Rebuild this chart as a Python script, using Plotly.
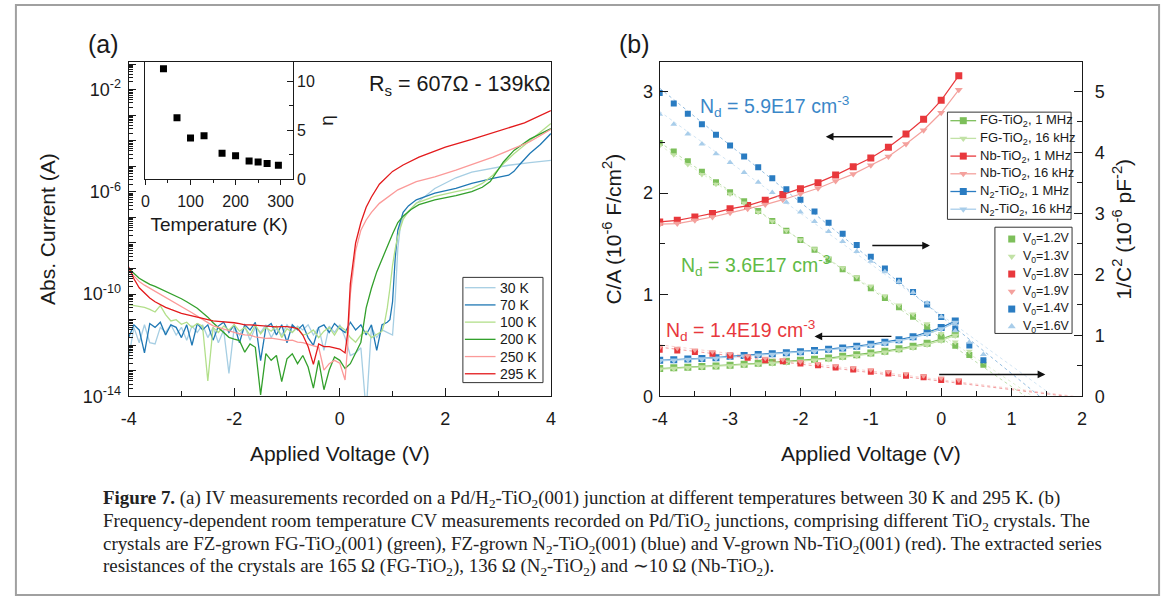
import numpy as np
import plotly.graph_objects as go

W, H = 1171, 610
SANS = "Liberation Sans, Arial, sans-serif"
SERIF = "Liberation Serif, Times New Roman, serif"
INK = "#1a1a1a"


def px(x):
    return x / W


def py(y):
    return 1 - y / H


# ---------------- (a) IV curves: bias (V) and log10 |I| (A) ----------------
V_LOW = [-4.0, -3.9, -3.8, -3.7, -3.6, -3.5, -3.4, -3.3, -3.2, -3.1,
         -3.0, -2.9, -2.8, -2.7, -2.6, -2.5, -2.4, -2.3, -2.2, -2.1,
         -2.0, -1.9, -1.8, -1.7, -1.6, -1.5, -1.4, -1.3, -1.2, -1.1,
         -1.0, -0.9, -0.8, -0.7, -0.6, -0.5, -0.4, -0.3, -0.2, -0.1,
         0.0, 0.1]

log_i_30K_low = [-12.5, -11.3, -11.9, -11.2, -11.9, -11.95, -11.3, -11.5, -11.2, -11.6,
                 -11.3, -11.8, -11.25, -11.5, -11.2, -11.7, -11.3, -11.9, -11.4, -13.1,
                 -11.3, -11.6, -11.25, -11.8, -11.3, -11.5, -11.2, -11.7, -11.35, -11.6,
                 -11.2, -11.5, -11.25, -11.4, -11.2, -11.6, -11.3, -12.2, -11.25, -11.5,
                 -11.2, -11.7]
v_30K_high = [0.2, 0.3, 0.4, 0.5, 0.6, 0.7, 0.8, 0.9, 1.0, 1.05, 1.1, 1.15, 1.2, 1.3,
              1.45, 1.8, 2.2, 2.5, 2.9, 3.2, 3.6, 4.0]
log_i_30K_high = [-12.4, -12.3, -12.1, -14.6, -11.3, -11.7, -11.4, -11.5, -11.6, -10.2,
                  -8.2, -7.3, -7.0, -6.8, -6.45, -5.87, -5.45, -5.23, -5.06, -4.96,
                  -4.86, -4.77]

log_i_70K_low = [-11.7, -11.2, -11.4, -12.3, -11.15, -11.3, -11.1, -11.6, -11.2, -11.3,
                 -11.7, -11.2, -12.0, -11.15, -11.4, -11.2, -11.8, -11.25, -11.1, -11.5,
                 -11.2, -11.9, -11.2, -11.4, -11.1, -12.6, -11.3, -11.15, -11.6, -11.2,
                 -11.9, -11.2, -11.4, -11.2, -11.7, -12.0, -11.3, -11.2, -11.5, -11.15,
                 -11.35, -11.5]
v_70K_high = [0.2, 0.3, 0.4, 0.5, 0.6, 0.7, 0.8, 0.9, 0.95, 1.0, 1.05, 1.1, 1.2, 1.3,
              1.45, 1.8, 2.2, 2.5, 2.9, 3.2, 3.3, 3.4, 3.6, 3.8, 4.0]
log_i_70K_high = [-11.1, -11.4, -11.2, -11.6, -11.2, -12.2, -11.2, -11.1, -11.0, -10.3,
                  -8.6, -7.5, -6.8, -6.55, -6.31, -6.05, -5.86, -5.67, -5.47, -5.35,
                  -5.2, -4.95, -4.5, -4.15, -3.72]

log_i_100K_low = [-10.41, -10.45, -10.47, -10.52, -10.6, -10.7, -10.45, -10.8, -11.05, -11.0,
                  -11.18, -11.1, -11.3, -11.15, -11.25, -13.4, -11.3, -11.5, -11.25, -11.4,
                  -11.2, -11.45, -11.3, -11.6, -11.2, -11.55, -11.3, -11.45, -11.25, -11.7,
                  -11.35, -11.5, -11.3, -11.6, -11.55, -11.4, -11.7, -11.45, -11.3, -11.6,
                  -11.25, -11.4]
v_100K_high = [0.2, 0.3, 0.4, 0.5, 0.6, 0.7, 0.8, 0.85, 0.9, 0.95, 1.0, 1.05, 1.1, 1.2,
               1.3, 1.45, 1.8, 2.2, 2.5, 2.7, 2.9, 3.1, 3.3, 3.6, 4.0]
log_i_100K_high = [-11.7, -11.88, -11.6, -11.45, -11.7, -11.56, -11.45, -11.1, -10.54, -9.77,
                   -8.87, -8.23, -7.72, -7.08, -6.76, -6.44, -6.18, -5.99, -5.86, -5.67,
                   -5.35, -4.9, -4.51, -4.0, -3.33]

log_i_200K_low = [-9.0, -9.2, -9.38, -9.5, -9.62, -9.7, -9.79, -9.88, -9.99, -10.08,
                  -10.18, -10.3, -10.41, -10.55, -10.73, -10.9, -11.12, -11.31, -11.5, -11.69,
                  -11.76, -11.82, -12.27, -11.95, -12.08, -13.94, -12.33, -12.59, -12.4, -13.42,
                  -12.53, -12.33, -12.72, -12.4, -12.85, -13.68, -12.59, -13.74, -12.97, -12.46,
                  -12.59, -12.91]
v_200K_high = [0.2, 0.3, 0.4, 0.5, 0.6, 0.7, 0.8, 0.9, 1.0, 1.1, 1.2, 1.35, 1.5, 1.8,
               2.2, 2.5, 2.7, 2.85, 2.95, 3.1, 3.3, 3.6, 4.0]
log_i_200K_high = [-12.72, -12.27, -11.88, -10.54, -9.77, -9.13, -8.62, -8.1, -7.65, -7.2,
                   -6.95, -6.69, -6.5, -6.31, -6.15, -5.99, -5.82, -5.6, -5.28, -4.83,
                   -4.38, -3.94, -3.53]

log_i_250K_low = [-9.06, -9.3, -9.51, -9.65, -9.77, -9.88, -10.0, -10.1, -10.22, -10.35,
                  -10.47, -10.6, -10.73, -10.86, -10.99, -11.1, -11.24, -11.3, -11.37, -11.45,
                  -11.5, -11.55, -11.59, -11.6, -11.67, -11.7, -11.73, -11.72, -11.76, -11.78,
                  -11.82, -11.8, -11.88, -11.9, -11.95, -12.0, -12.08, -12.97, -12.72, -12.59,
                  -12.7, -13.36]
v_250K_high = [0.15, 0.2, 0.3, 0.4, 0.5, 0.6, 0.75, 1.1, 1.45, 1.8, 2.2, 2.9, 3.6, 4.0]
log_i_250K_high = [-12.0, -10.0, -8.3, -7.5, -7.1, -6.8, -6.45, -5.92, -5.6, -5.41,
                   -5.15, -4.64, -4.04, -3.55]

log_i_295K_low = [-8.94, -9.4, -9.75, -9.96, -10.15, -10.3, -10.42, -10.52, -10.6, -10.68,
                  -10.75, -10.8, -10.85, -10.92, -10.98, -11.02, -11.05, -11.07, -11.08, -11.1,
                  -11.12, -11.15, -11.2, -11.2, -11.22, -11.24, -11.26, -11.27, -11.28, -11.27,
                  -11.27, -11.3, -11.35, -11.6, -12.05, -12.75, -11.95, -12.05, -12.05, -12.1,
                  -12.15, -12.3]
v_295K_high = [0.15, 0.2, 0.25, 0.3, 0.4, 0.5, 0.6, 0.75, 1.0, 1.2, 1.5, 2.0, 2.5, 3.0,
               3.5, 4.0]
log_i_295K_high = [-11.5, -9.6, -8.7, -8.0, -7.2, -6.6, -6.2, -5.7, -5.2, -4.95,
                   -4.64, -4.25, -3.95, -3.62, -3.3, -2.82]

iv_labels = ["30 K", "70 K", "100 K", "200 K", "250 K", "295 K"]
iv_colors = ["#a6cee3", "#1f78b4", "#b2df8a", "#33a02c", "#fb9a99", "#e31a1c"]
iv_low = [log_i_30K_low, log_i_70K_low, log_i_100K_low,
          log_i_200K_low, log_i_250K_low, log_i_295K_low]
iv_high_v = [v_30K_high, v_70K_high, v_100K_high, v_200K_high, v_250K_high, v_295K_high]
iv_high_i = [log_i_30K_high, log_i_70K_high, log_i_100K_high,
             log_i_200K_high, log_i_250K_high, log_i_295K_high]

# inset: ideality factor vs temperature
inset_T = [40, 70, 100, 130, 170, 200, 230, 250, 270, 295]
inset_eta = [11.3, 6.28, 4.2, 4.43, 2.65, 2.38, 1.85, 1.75, 1.58, 1.41]

# ---------------- (b) CV data ----------------
V_NB = [-4.0, -3.75, -3.5, -3.25, -3.0, -2.75, -2.5, -2.25, -2.0, -1.75,
        -1.5, -1.25, -1.0, -0.75, -0.5, -0.25, 0.0, 0.25]
ca_nb_1mhz = [1.716, 1.732, 1.765, 1.8, 1.845, 1.877, 1.929, 1.987, 2.042, 2.103,
              2.177, 2.258, 2.345, 2.452, 2.581, 2.726, 2.913, 3.155]
ca_nb_16khz = [1.694, 1.7, 1.732, 1.765, 1.806, 1.845, 1.887, 1.935, 1.994, 2.048,
               2.119, 2.187, 2.274, 2.361, 2.484, 2.619, 2.79, 3.016]
inv_nb_1mhz = [0.763, 0.753, 0.726, 0.699, 0.672, 0.634, 0.591, 0.575, 0.538, 0.511,
               0.473, 0.441, 0.403, 0.376, 0.339, 0.312, 0.269, 0.242]
inv_nb_16khz = [0.80, 0.79, 0.76, 0.73, 0.70, 0.665, 0.625, 0.605, 0.57, 0.54,
                0.505, 0.47, 0.435, 0.405, 0.37, 0.34, 0.30, 0.27]

V_CA = [-4.0, -3.8, -3.6, -3.4, -3.2, -3.0, -2.8, -2.6, -2.4, -2.2, -2.0,
        -1.8, -1.6, -1.4, -1.2, -1.0, -0.8, -0.6, -0.4, -0.2, 0.0, 0.2]
ca_fg_1mhz = [0.274, 0.281, 0.287, 0.294, 0.3, 0.306, 0.316, 0.326, 0.335, 0.345, 0.355,
              0.365, 0.377, 0.394, 0.41, 0.426, 0.445, 0.468, 0.494, 0.523, 0.565, 0.613]
ca_fg_16khz = [0.268, 0.275, 0.281, 0.288, 0.294, 0.300, 0.309, 0.318, 0.327, 0.337, 0.346,
               0.356, 0.368, 0.384, 0.40, 0.416, 0.434, 0.457, 0.482, 0.51, 0.55, 0.60]
ca_n2_1mhz = [0.355, 0.361, 0.368, 0.374, 0.381, 0.394, 0.403, 0.413, 0.419, 0.429, 0.439,
              0.452, 0.465, 0.477, 0.494, 0.513, 0.532, 0.558, 0.587, 0.629, 0.677, 0.742]
ca_n2_16khz = [0.35, 0.356, 0.362, 0.368, 0.375, 0.387, 0.396, 0.406, 0.412, 0.422, 0.432,
               0.444, 0.457, 0.469, 0.485, 0.503, 0.522, 0.547, 0.575, 0.615, 0.662, 0.727]

V_INV = [-4.0, -3.8, -3.6, -3.4, -3.2, -3.0, -2.8, -2.6, -2.4, -2.2, -2.0, -1.8,
         -1.6, -1.4, -1.2, -1.0, -0.8, -0.6, -0.4, -0.2, 0.0, 0.2, 0.4, 0.6]
inv_fg_1mhz = [4.156, 4.016, 3.855, 3.683, 3.511, 3.349, 3.199, 3.04, 2.876, 2.715, 2.565, 2.403,
               2.242, 2.086, 1.935, 1.774, 1.613, 1.462, 1.306, 1.14, 0.98, 0.83, 0.68, 0.52]
inv_fg_16khz = [4.11, 3.96, 3.80, 3.64, 3.48, 3.32, 3.17, 3.02, 2.87, 2.72, 2.57, 2.42,
                2.27, 2.11, 1.96, 1.81, 1.65, 1.50, 1.35, 1.19, 1.03, 0.89, 0.74, 0.58]
inv_n2_1mhz = [4.973, 4.801, 4.634, 4.462, 4.29, 4.113, 3.935, 3.758, 3.575, 3.398, 3.226, 3.032,
               2.849, 2.667, 2.484, 2.29, 2.097, 1.898, 1.71, 1.505, 1.301, 1.113, 0.833, 0.591]
inv_n2_16khz = [4.624, 4.462, 4.301, 4.14, 3.978, 3.833, 3.672, 3.51, 3.344, 3.183, 3.022, 2.866,
                2.704, 2.538, 2.376, 2.215, 2.043, 1.882, 1.704, 1.532, 1.306, 1.075, 0.887, 0.688]

# built-in voltages from the Mott-Schottky fits
v0_fg_1mhz, v0_fg_16khz = 1.2, 1.3
v0_nb_1mhz, v0_nb_16khz = 1.8, 1.9
v0_n2_1mhz, v0_n2_16khz = 1.4, 1.6

GREEN, LGREEN = "#7dbf5a", "#c2e2a6"
RED, PINK = "#e8383d", "#f4a19d"
BLUE, LBLUE = "#2a7cc2", "#a8cdea"

fig = go.Figure()

# ---- panel (a) ----
for lab, col, lo, hv, hi in zip(iv_labels, iv_colors, iv_low, iv_high_v, iv_high_i):
    v = list(V_LOW) + list(hv)
    cur = np.power(10.0, np.array(list(lo) + list(hi)))
    fig.add_trace(go.Scatter(x=v, y=cur, mode="lines", name=lab, showlegend=False,
                             line=dict(color=col, width=1.3), xaxis="x", yaxis="y"))

fig.add_trace(go.Scatter(x=inset_T, y=inset_eta, mode="markers", showlegend=False,
                         marker=dict(symbol="square", size=7, color="black"),
                         xaxis="x2", yaxis="y2"))

# ---- panel (b): C/A on left axis ----
ca_series = [
    ("FG-TiO<sub>2</sub>, 1 MHz", V_CA, ca_fg_1mhz, GREEN, "square"),
    ("FG-TiO<sub>2</sub>, 16 kHz", V_CA, ca_fg_16khz, LGREEN, "triangle-down"),
    ("Nb-TiO<sub>2</sub>, 1 MHz", V_NB, ca_nb_1mhz, RED, "square"),
    ("Nb-TiO<sub>2</sub>, 16 kHz", V_NB, ca_nb_16khz, PINK, "triangle-down"),
    ("N<sub>2</sub>-TiO<sub>2</sub>, 1 MHz", V_CA, ca_n2_1mhz, BLUE, "square"),
    ("N<sub>2</sub>-TiO<sub>2</sub>, 16 kHz", V_CA, ca_n2_16khz, LBLUE, "triangle-down"),
]
for name, vx, vy, col, sym in ca_series:
    fig.add_trace(go.Scatter(x=vx, y=vy, mode="lines+markers", name=name, showlegend=False,
                             line=dict(color=col, width=1.2),
                             marker=dict(symbol=sym, size=7, color=col),
                             xaxis="x3", yaxis="y3"))

# ---- panel (b): 1/C^2 on right axis with linear fits ----
inv_series = [
    ("V<sub>0</sub>=1.2V", V_INV, inv_fg_1mhz, GREEN, "square", v0_fg_1mhz),
    ("V<sub>0</sub>=1.3V", V_INV, inv_fg_16khz, LGREEN, "triangle-down", v0_fg_16khz),
    ("V<sub>0</sub>=1.8V", V_NB, inv_nb_1mhz, RED, "square", v0_nb_1mhz),
    ("V<sub>0</sub>=1.9V", V_NB, inv_nb_16khz, PINK, "triangle-down", v0_nb_16khz),
    ("V<sub>0</sub>=1.4V", V_INV, inv_n2_1mhz, BLUE, "square", v0_n2_1mhz),
    ("V<sub>0</sub>=1.6V", V_INV, inv_n2_16khz, LBLUE, "triangle-up", v0_n2_16khz),
]
for name, vx, vy, col, sym, v0 in inv_series:
    vv = np.array(vx)
    yy = np.array(vy)
    sel = vv <= 0.0
    d = vv[sel] - v0
    slope = float(np.sum(d * yy[sel]) / np.sum(d * d))
    fx = np.array([-4.0, v0])
    fig.add_trace(go.Scatter(x=fx, y=slope * (fx - v0), mode="lines", showlegend=False,
                             line=dict(color=col, width=1, dash="dot"),
                             opacity=0.5, xaxis="x3", yaxis="y4"))
    fig.add_trace(go.Scatter(x=vx, y=vy, mode="markers", name=name, showlegend=False,
                             marker=dict(symbol=sym, size=6, color=col),
                             xaxis="x3", yaxis="y4"))

# ---------------- axes ----------------
tick_font = dict(family=SANS, size=18, color=INK)
title_font = dict(family=SANS, size=21, color=INK)
common = dict(showline=True, linecolor=INK, linewidth=1.2, showgrid=False,
              zeroline=False, tickcolor=INK, tickwidth=1.2, tickfont=tick_font)


def lin_ticks(vals):
    return dict(tickvals=vals, ticktext=[("%g" % v) for v in vals])


decades = list(range(-14, 0))
major_log = [10.0 ** k for k in decades]
major_txt = ["10<sup>%d</sup>" % k if k in (-14, -10, -6, -2) else "" for k in decades]
minor_log = [m * 10.0 ** k for k in range(-14, -1) for m in range(2, 10)]

fig.update_layout(
    xaxis=dict(domain=[px(122), px(549)], anchor="y", range=[-4, 4],
               **lin_ticks([-4, -2, 0, 2, 4]), ticks="inside", ticklen=8, mirror=True,
               ticklabelstandoff=6,
               minor=dict(tickvals=[-3, -1, 1, 3], ticks="inside", ticklen=5,
                          tickcolor=INK),
               title=dict(text="Applied Voltage (V)", font=title_font, standoff=18),
               **common),
    yaxis=dict(domain=[py(403), py(63)], anchor="x", type="log", range=[-14, -0.92],
               tickvals=major_log, ticktext=major_txt, ticks="inside", ticklen=7,
               mirror=True, ticklabelstandoff=3,
               minor=dict(tickvals=minor_log, ticks="inside", ticklen=4, tickcolor=INK),
               title=dict(text="Abs. Current (A)", font=title_font, standoff=21),
               **common),
    xaxis2=dict(domain=[px(139), px(288)], anchor="y2", range=[0, 327],
                **lin_ticks([0, 100, 200, 300]), ticks="outside", ticklen=5, mirror=True,
                ticklabelstandoff=3,
                minor=dict(tickvals=[50, 150, 250], ticks="outside", ticklen=3,
                           tickcolor=INK),
                title=dict(text="Temperature (K)", font=dict(family=SANS, size=19, color=INK),
                           standoff=8),
                **{**common, "tickfont": dict(family=SANS, size=16, color=INK)}),
    yaxis2=dict(domain=[py(182), py(63)], anchor="x2", side="right", range=[0, 12],
                **lin_ticks([0, 5, 10]), ticks="inside", ticklen=6, mirror=True,
                minor=dict(tickvals=[2.5, 7.5], ticks="inside", ticklen=4, tickcolor=INK),
                title=dict(text="η", font=dict(family=SANS, size=19, color=INK), standoff=5),
                **{**common, "tickfont": dict(family=SANS, size=16, color=INK)}),
    xaxis3=dict(domain=[px(659), px(1086)], anchor="y3", range=[-4, 2],
                **lin_ticks([-4, -3, -2, -1, 0, 1, 2]), ticks="inside", ticklen=8,
                mirror=True, ticklabelstandoff=6,
                minor=dict(tickvals=[-3.5, -2.5, -1.5, -0.5, 0.5, 1.5], ticks="inside",
                           ticklen=5, tickcolor=INK),
                title=dict(text="Applied Voltage (V)", font=title_font, standoff=18),
                **common),
    yaxis3=dict(domain=[py(403), py(63)], anchor="x3", range=[0, 3.29],
                **lin_ticks([0, 1, 2, 3]), ticks="inside", ticklen=8, ticklabelstandoff=2,
                minor=dict(tickvals=[0.5, 1.5, 2.5], ticks="inside", ticklen=5,
                           tickcolor=INK),
                title=dict(text="C/A (10<sup>-6</sup> F/cm<sup>2</sup>)", font=title_font,
                           standoff=15),
                **common),
    yaxis4=dict(overlaying="y3", anchor="x3", side="right", range=[0, 5.483],
                **lin_ticks([0, 1, 2, 3, 4, 5]), ticks="inside", ticklen=8,
                ticklabelstandoff=8,
                minor=dict(tickvals=[0.5, 1.5, 2.5, 3.5, 4.5], ticks="inside", ticklen=5,
                           tickcolor=INK),
                title=dict(text="1/C<sup>2</sup> (10<sup>-6</sup> pF<sup>-2</sup>)",
                           font=title_font, standoff=12),
                **common),
    # full-figure pixel frame used to lay out the key boxes
    xaxis9=dict(domain=[0, 1], range=[0, W], visible=False, anchor="y9", fixedrange=True),
    yaxis9=dict(domain=[0, 1], range=[H, 0], visible=False, anchor="x9", fixedrange=True),
)

# ---------------- keys (legend boxes) ----------------
ann = []
shapes = []


def key_box(x0, y0, x1, y1):
    shapes.append(dict(type="rect", xref="x9", yref="y9", x0=x0, x1=x1, y0=y0, y1=y1,
                       line=dict(color="#333", width=1), layer="above"))


def key_line(xa, xb, yr, col):
    fig.add_trace(go.Scatter(x=[xa, xb], y=[yr, yr], mode="lines", showlegend=False,
                             hoverinfo="skip", line=dict(color=col, width=1.3),
                             xaxis="x9", yaxis="y9"))


def key_marker(xm, yr, col, sym, size):
    fig.add_trace(go.Scatter(x=[xm], y=[yr], mode="markers", showlegend=False,
                             hoverinfo="skip", marker=dict(symbol=sym, size=size, color=col),
                             xaxis="x9", yaxis="y9"))


def key_text(xt, yr, txt, size):
    ann.append(dict(text=txt, x=xt, y=yr, xref="x9", yref="y9", xanchor="left",
                    yanchor="middle", showarrow=False,
                    font=dict(family=SANS, size=size, color=INK)))


# temperatures key, panel (a)
key_box(460, 282, 541, 389)
for i, (lab, col) in enumerate(zip(iv_labels, iv_colors)):
    yr = 292.5 + 17.5 * i
    key_line(462, 493, yr, col)
    key_text(496, yr, lab, 14)

# sample / frequency key, panel (b)
key_box(950, 114, 1075, 223)
for i, (name, _, _, col, sym) in enumerate(ca_series):
    yr = 122.7 + 18.0 * i
    key_line(953, 979, yr, col)
    key_marker(966, yr, col, sym, 7)
    key_text(981, yr, name, 13)

# built-in voltage key, panel (b)
key_box(998, 231, 1076, 339)
for i, (name, _, _, col, sym, _) in enumerate(inv_series):
    yr = 243.0 + 17.8 * i
    key_marker(1015, yr, col, sym, 7)
    key_text(1024, yr, name, 12.4)

# panel labels and text
ann.append(dict(text="(a)", x=px(97), y=py(45), xref="paper", yref="paper",
                xanchor="center", yanchor="middle", showarrow=False,
                font=dict(family=SANS, size=25, color=INK)))
ann.append(dict(text="(b)", x=px(634), y=py(45), xref="paper", yref="paper",
                xanchor="center", yanchor="middle", showarrow=False,
                font=dict(family=SANS, size=25, color=INK)))
ann.append(dict(text="R<sub>s</sub> = 607Ω - 139kΩ", x=px(363), y=py(87),
                xref="paper", yref="paper", xanchor="left", yanchor="middle",
                showarrow=False, font=dict(family=SANS, size=21.5, color=INK)))

nd_texts = [
    ("N<sub>d</sub> = 5.9E17 cm<sup>-3</sup>", -3.46, 2.855, "#3a87c8"),
    ("N<sub>d</sub> = 3.6E17 cm<sup>-3</sup>", -3.72, 1.29, "#5fba47"),
    ("N<sub>d</sub> = 1.4E19 cm<sup>-3</sup>", -3.94, 0.645, "#e8383d"),
]
for txt, xv, yv, col in nd_texts:
    ann.append(dict(text=txt, x=xv, y=yv, xref="x3", yref="y3", xanchor="left",
                    yanchor="middle", showarrow=False,
                    font=dict(family=SANS, size=19.5, color=col)))

# arrows pointing to the axis each curve family belongs to (head, tail)
arrows = [(-1.64, 2.555, -0.67, 2.555), (-0.16, 1.484, -1.0, 1.484),
          (-1.8, 0.59, -0.686, 0.59), (1.48, 0.216, -0.05, 0.216)]
for hx, hy, tx, ty in arrows:
    ann.append(dict(text="", x=hx, y=hy, ax=tx, ay=ty, xref="x3", yref="y3",
                    axref="x3", ayref="y3", showarrow=True, arrowhead=2,
                    arrowsize=1.1, arrowwidth=1.4, arrowcolor="#111"))

caption = [
    "<b>Figure 7.</b> (a) IV measurements recorded on a Pd/H<sub>2</sub>-TiO<sub>2</sub>(001) "
    "junction at different temperatures between 30 K and 295 K. (b)",
    "Frequency-dependent room temperature CV measurements recorded on Pd/TiO<sub>2</sub> "
    "junctions, comprising different TiO<sub>2</sub> crystals. The",
    "crystals are FZ-grown FG-TiO<sub>2</sub>(001) (green), FZ-grown N<sub>2</sub>-TiO<sub>2</sub>(001) "
    "(blue) and V-grown Nb-TiO<sub>2</sub>(001) (red). The extracted series",
    "resistances of the crystals are 165 Ω (FG-TiO<sub>2</sub>), 136 Ω "
    "(N<sub>2</sub>-TiO<sub>2</sub>) and ∼10 Ω (Nb-TiO<sub>2</sub>).",
]
for i, line in enumerate(caption):
    ann.append(dict(text=line, x=px(94), y=py(507 + 23.3 * i), xref="paper", yref="paper",
                    xanchor="left", yanchor="middle", showarrow=False,
                    font=dict(family=SERIF, size=18.9, color="#222")))

shapes.append(dict(type="rect", xref="paper", yref="paper", x0=px(8), x1=px(1164),
                   y0=py(605), y1=py(5), line=dict(color="#a0a0a0", width=2)))

fig.update_layout(
    annotations=ann,
    shapes=shapes,
    showlegend=False,
    width=W, height=H, autosize=False,
    margin=dict(l=0, r=0, t=0, b=0),
    paper_bgcolor="white", plot_bgcolor="rgba(0,0,0,0)",
    font=dict(family=SANS, color=INK),
)

fig.write_html("out.html")
